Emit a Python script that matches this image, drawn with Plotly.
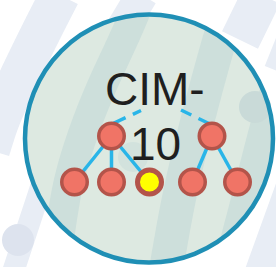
import numpy as np
import plotly.graph_objects as go

# ---------------- data ----------------
node_names = ["A", "B", "A1", "A2", "A3", "B1", "B2"]
node_x = [111.5, 212.0, 74.5, 111.5, 149.5, 192.5, 237.5]
node_y = [136.0, 136.0, 182.0, 182.0, 182.0, 182.0, 182.0]
node_selected = [False, False, False, False, True, False, False]
edges = [(0, 2), (0, 3), (0, 4), (1, 5), (1, 6)]
dash_x = [[112.0, 141.0], [212.0, 181.0]]
dash_y = [[124.0, 110.5], [125.0, 110.0]]
title_lines = ["CIM-", "10"]

# ---------------- style / geometry ----------------
W, H = 276, 267
CX, CY, R = 149.0, 138.5, 124.0
RED, RED_EDGE, YELLOW = "#f07466", "#b3544a", "#ffff00"
LINK = "#29b5e8"
RING = "#1f8fb5"
DISK = "#dde9e1"
DISK_DARK = "#cddfdb"
BG_BAND = "#e8edf5"


def chaikin(pts, it=3):
    p = np.asarray(pts, float)
    for _ in range(it):
        q = 0.75 * p[:-1] + 0.25 * p[1:]
        r = 0.25 * p[:-1] + 0.75 * p[1:]
        mid = np.empty((2 * len(q), 2))
        mid[0::2] = q
        mid[1::2] = r
        p = np.vstack([p[:1], mid, p[-1:]])
    return p


def band(pts, w, n=240):
    p = chaikin(pts)
    seg = np.diff(p, axis=0)
    cum = np.r_[0, np.cumsum(np.hypot(seg[:, 0], seg[:, 1]))]
    s = np.linspace(0, cum[-1], n)
    x = np.interp(s, cum, p[:, 0])
    y = np.interp(s, cum, p[:, 1])
    dx, dy = np.gradient(x), np.gradient(y)
    nn = np.hypot(dx, dy)
    nx, ny = -dy / nn, dx / nn
    left = np.c_[x + nx * w / 2, y + ny * w / 2]
    right = np.c_[x - nx * w / 2, y - ny * w / 2]
    return np.vstack([left, right[::-1]])


def clip_to_disk(poly, rc):
    c = np.array([CX, CY])
    d = np.hypot(poly[:, 0] - CX, poly[:, 1] - CY)
    m = d > rc
    poly = poly.copy()
    poly[m] = c + (poly[m] - c) * (rc / d[m])[:, None]
    return poly


def path_of(poly):
    return "M " + " L ".join(f"{x:.1f},{y:.1f}" for x, y in poly) + " Z"


shapes = []
# background pale bands
outer_bands = [
    ([(60, -5), (42, 30), (20, 75), (0, 118), (-10, 150)], 40),
    ([(142, -5), (118, 35), (95, 70)], 32),
    ([(262, -5), (240, 40)], 40),
    ([(305, -5), (275, 70)], 22),
    ([(300, 170), (262, 275)], 36),
    ([(45, 175), (12, 275)], 22),
]
for pts, w in outer_bands:
    shapes.append(dict(type="path", path=path_of(band(pts, w)), fillcolor=BG_BAND,
                       line=dict(width=0), layer="below"))
shapes.append(dict(type="circle", x0=2, x1=34, y0=224, y1=256, fillcolor="#dde3ee",
                   line=dict(width=0), layer="below"))
# disk
shapes.append(dict(type="circle", x0=CX - R, x1=CX + R, y0=CY - R, y1=CY + R,
                   fillcolor=DISK, line=dict(width=0), layer="below"))
inner_bands = [
    ([(142, -5), (128, 30), (95, 100), (72, 165), (62, 215), (55, 275)], 30),
    ([(234, -5), (222, 30), (200, 110), (180, 190), (165, 275)], 34),
    ([(292, 30), (268, 110), (245, 200), (225, 275)], 28),
]
for pts, w in inner_bands:
    poly = clip_to_disk(band(pts, w), R - 1)
    shapes.append(dict(type="path", path=path_of(poly), fillcolor=DISK_DARK,
                       line=dict(width=0), layer="below"))
shapes.append(dict(type="circle", x0=239, x1=271, y0=91, y1=123, fillcolor="#c9dad8",
                   line=dict(width=0), layer="below"))
shapes.append(dict(type="circle", x0=118, x1=148, y0=142, y1=172, fillcolor="#d2e2dd",
                   line=dict(width=0), layer="below"))
# ring
shapes.append(dict(type="circle", x0=CX - R, x1=CX + R, y0=CY - R, y1=CY + R,
                   fillcolor="rgba(0,0,0,0)", line=dict(color=RING, width=4.5), layer="below"))

fig = go.Figure()

# tree links
ex, ey = [], []
for a, b in edges:
    ex += [node_x[a], node_x[b], None]
    ey += [node_y[a], node_y[b], None]
fig.add_trace(go.Scatter(x=ex, y=ey, mode="lines", line=dict(color=LINK, width=3.5),
                         hoverinfo="skip", showlegend=False))
# dashed links towards the title
for xs, ys in zip(dash_x, dash_y):
    fig.add_trace(go.Scatter(x=xs, y=ys, mode="lines",
                             line=dict(color=LINK, width=3.5, dash="15px,8px"),
                             hoverinfo="skip", showlegend=False))
# nodes
fig.add_trace(go.Scatter(
    x=node_x, y=node_y, mode="markers", text=node_names, hoverinfo="text",
    marker=dict(
        size=[24 if s else 25.5 for s in node_selected],
        color=[YELLOW if s else RED for s in node_selected],
        opacity=1,
        line=dict(color=RED_EDGE, width=[5 if s else 3.5 for s in node_selected]),
    ),
    showlegend=False))

annotations = []
for txt, yy in zip(title_lines, [88.5, 144.0]):
    annotations.append(dict(x=155, y=yy, xref="x", yref="y", text=txt, showarrow=False,
                            xanchor="center", yanchor="middle",
                            font=dict(family="Liberation Sans, Arial, sans-serif",
                                      size=46, color="#1f1f1f")))

fig.update_layout(
    width=W, height=H, margin=dict(l=0, r=0, t=0, b=0),
    paper_bgcolor="white", plot_bgcolor="white",
    xaxis=dict(range=[0, W], visible=False, fixedrange=True),
    yaxis=dict(range=[H, 0], visible=False, fixedrange=True),
    shapes=shapes, annotations=annotations, showlegend=False,
)
fig.write_html("out.html", config={"displayModeBar": False},
               post_script="document.body.style.margin='0';document.body.style.overflow='hidden';")
